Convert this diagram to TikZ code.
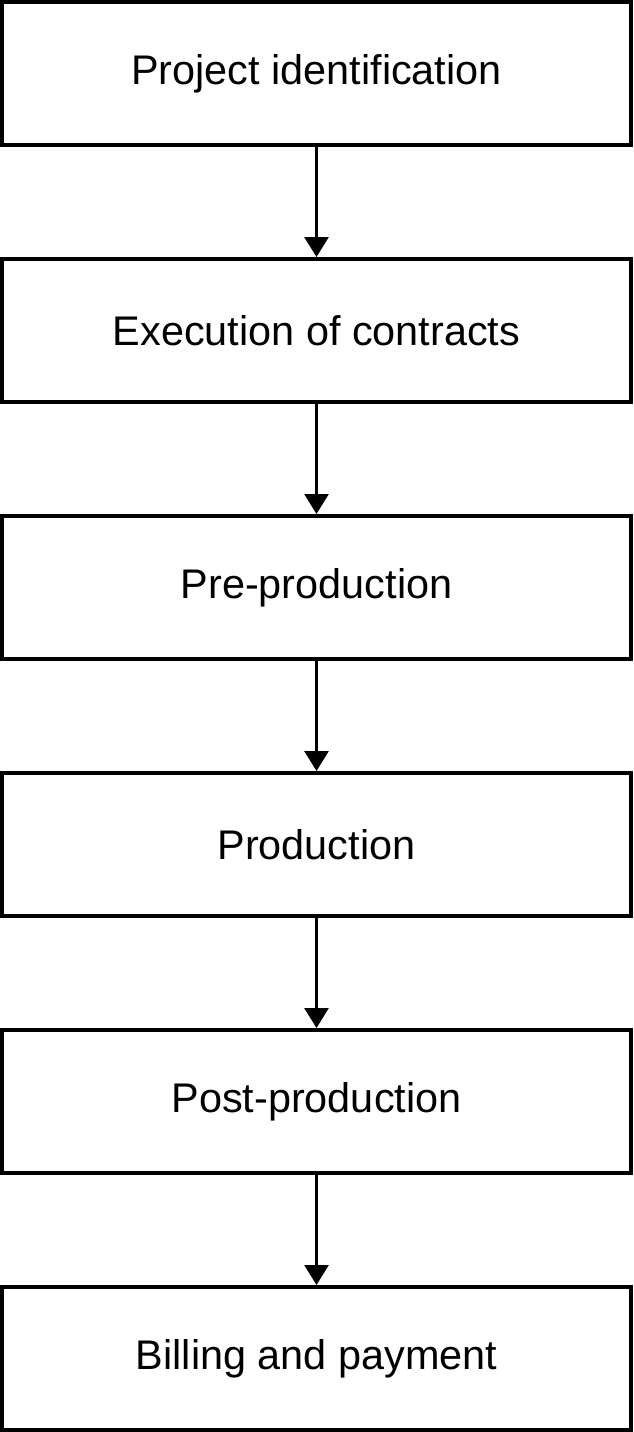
\documentclass[tikz,border=0pt]{standalone}
\usepackage{fontspec}
\setmainfont{Liberation Sans}
\usetikzlibrary{arrows.meta,positioning}

\begin{document}
\begin{tikzpicture}[x=0.5pt,y=-0.5pt]

	\useasboundingbox (0,0) rectangle (633,1432);

	\tikzstyle{edge} = [draw,line width=1.35pt,-{Triangle[width=12pt,length=10pt]}]
	\tikzset{stage/.style = {shape = rectangle,draw,line width=2pt,minimum width=314.5pt,minimum height=71.5pt,inner sep=0pt,font=\fontsize{20.7}{24}\selectfont}}
	\tikzset{node distance=55pt}

	\node[stage] (ident) at (316.5,73.5) {Project identification};
	\node[stage, below=of ident] (contr) {Execution of contracts};
	\node[stage, below=of contr] (prepro) {Pre-production};
	\node[stage, below=of prepro] (prod) {Production};
	\node[stage, below=of prod] (postpro) {Post-production};
	\node[stage, below=of postpro] (bill) {Billing and payment};

	\draw[edge] (ident) to (contr);
	\draw[edge] (contr) to (prepro);
	\draw[edge] (prepro) to (prod);
	\draw[edge] (prod) to (postpro);
	\draw[edge] (postpro) to (bill);
\end{tikzpicture}
\end{document}
